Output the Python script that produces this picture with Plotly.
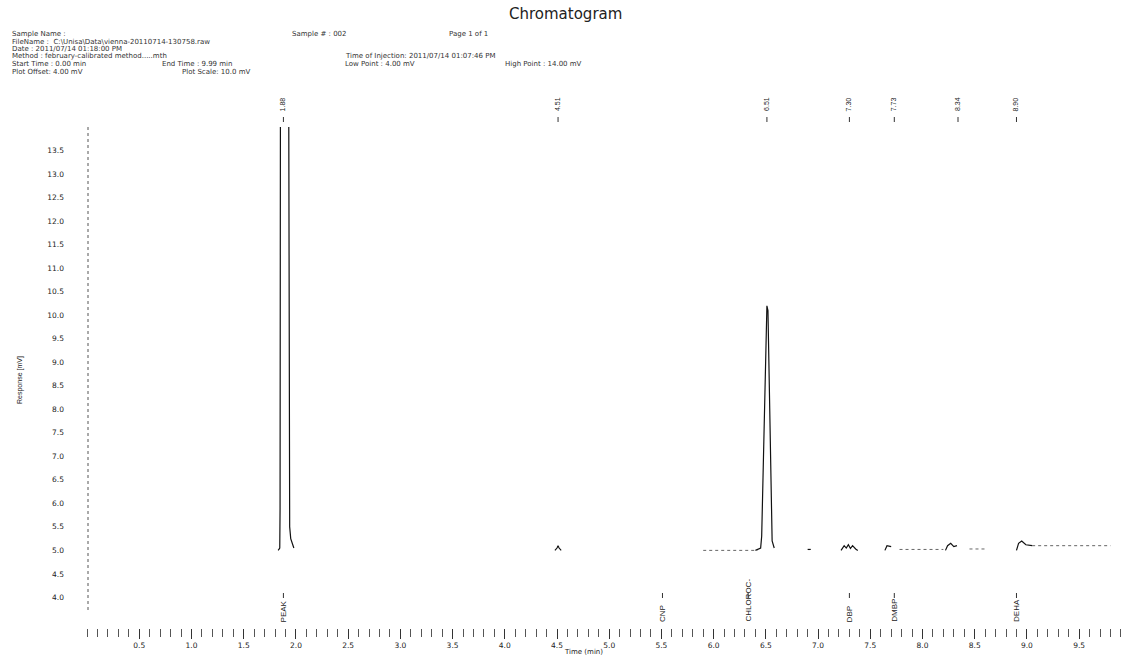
import plotly.graph_objects as go

# ---------------- data ----------------
# solid signal trace (None = gap where the trace is not visible)
signal_time = [1.83, 1.845, 1.848, 1.852, 1.885, 1.93, 1.935, 1.94, 1.95, 1.965, 1.98, None,
               4.48, 4.50, 4.51, 4.52, 4.54, None,
               6.40, 6.45, 6.46, 6.47, 6.49, 6.51, 6.52, 6.535, 6.55, 6.56, 6.58, None,
               6.90, 6.93, None,
               7.22, 7.25, 7.27, 7.29, 7.31, 7.33, 7.36, 7.38, None,
               7.64, 7.66, 7.70, None,
               8.22, 8.24, 8.27, 8.30, 8.33, None,
               8.90, 8.92, 8.95, 8.99, 9.05]
signal_mv = [5.0, 5.05, 5.9, 16.0, 60.0, 16.0, 6.6, 5.5, 5.25, 5.15, 5.05, None,
             5.0, 5.05, 5.1, 5.05, 5.0, None,
             5.0, 5.05, 5.3, 6.2, 8.5, 10.2, 10.1, 8.0, 5.8, 5.2, 5.05, None,
             5.02, 5.02, None,
             5.0, 5.1, 5.05, 5.12, 5.04, 5.1, 5.03, 5.0, None,
             5.0, 5.1, 5.08, None,
             5.0, 5.1, 5.15, 5.08, 5.1, None,
             5.0, 5.15, 5.2, 5.12, 5.1]

# faint (dotted) baseline pieces
baseline_time = [5.90, 6.42, None, 7.78, 8.20, None, 8.45, 8.62, None, 9.05, 9.80]
baseline_mv = [5.0, 5.0, None, 5.02, 5.02, None, 5.03, 5.03, None, 5.1, 5.1]

# peak retention-time labels (top)
peak_times = [1.88, 4.51, 6.51, 7.30, 7.73, 8.34, 8.90]
peak_labels = ["1.88", "4.51", "6.51", "7.30", "7.73", "8.34", "8.90"]

# compound name labels (bottom)
compound_times = [1.88, 5.51, 6.33, 7.30, 7.73, 8.90]
compound_names = ["PEAK", "CNP", "CHLOROC-", "DBP", "DMBP", "DEHA"]

# axis ticks
y_tick_vals = [4.0, 4.5, 5.0, 5.5, 6.0, 6.5, 7.0, 7.5, 8.0, 8.5, 9.0, 9.5,
               10.0, 10.5, 11.0, 11.5, 12.0, 12.5, 13.0, 13.5]
x_tick_vals = [0.5, 1.0, 1.5, 2.0, 2.5, 3.0, 3.5, 4.0, 4.5, 5.0, 5.5, 6.0,
               6.5, 7.0, 7.5, 8.0, 8.5, 9.0, 9.5]

# header information
header_rows = [
    [(10, "Sample Name :"), (290, "Sample # : 002"), (447, "Page 1 of 1")],
    [(10, r"FileName :  C:\Unisa\Data\vienna-20110714-130758.raw")],
    [(10, "Date : 2011/07/14 01:18:00 PM")],
    [(10, "Method : february-calibrated method.....mth"),
     (343, "Time of Injection: 2011/07/14 01:07:46 PM")],
    [(10, "Start Time : 0.00 min"), (160, "End Time : 9.99 min"),
     (343, "Low Point : 4.00 mV"), (503, "High Point : 14.00 mV")],
    [(10, "Plot Offset: 4.00 mV"), (180, "Plot Scale: 10.0 mV")],
]
header_y = [34, 41.5, 49, 56.5, 64, 71.5]

# ---------------- layout geometry ----------------
W, H = 1124, 659
ML, MR, MT, MB = 85, 1, 127, 31
PW, PH = W - ML - MR, H - MT - MB


def px(x):
    return (x - ML) / PW


def py(y):
    return 1 - (y - MT) / PH


FONT = "DejaVu Sans, Liberation Sans, Arial, sans-serif"
NARROW = "Liberation Sans Narrow, Arial Narrow, Liberation Sans, Arial, sans-serif"
TXT = "#222222"

fig = go.Figure()
fig.add_trace(go.Scatter(x=baseline_time, y=baseline_mv, mode="lines",
                         line=dict(color="#666666", width=1, dash="dot"),
                         connectgaps=False, showlegend=False, hoverinfo="skip"))
fig.add_trace(go.Scatter(x=signal_time, y=signal_mv, mode="lines",
                         line=dict(color="#111111", width=1.2),
                         connectgaps=False, showlegend=False))

annotations = []
# title
annotations.append(dict(text="Chromatogram", xref="paper", yref="paper",
                        x=px(565), y=py(14), showarrow=False,
                        font=dict(family=FONT, size=15, color=TXT),
                        xanchor="center", yanchor="middle"))
# header
for row, yy in zip(header_rows, header_y):
    for xx, t in row:
        annotations.append(dict(text=t, xref="paper", yref="paper",
                                x=px(xx), y=py(yy), showarrow=False,
                                font=dict(family=FONT, size=7, color="#333333"),
                                xanchor="left", yanchor="middle"))
# top peak labels
for t, lab in zip(peak_times, peak_labels):
    annotations.append(dict(text=lab, xref="x", yref="paper", x=t, y=py(113),
                            showarrow=False, textangle=-90,
                            font=dict(family=NARROW, size=7, color=TXT),
                            xanchor="center", yanchor="bottom"))
# bottom compound labels
for t, lab in zip(compound_times, compound_names):
    annotations.append(dict(text=lab, xref="x", yref="paper", x=t, y=py(624),
                            showarrow=False, textangle=-90,
                            font=dict(family=NARROW, size=8, color=TXT),
                            xanchor="center", yanchor="bottom"))
# axis titles
annotations.append(dict(text="Response [mV]", xref="paper", yref="paper",
                        x=px(20), y=py(380), showarrow=False, textangle=-90,
                        font=dict(family=NARROW, size=7, color=TXT),
                        xanchor="center", yanchor="middle"))
annotations.append(dict(text="Time (min)", xref="paper", yref="paper",
                        x=px(583), y=py(652), showarrow=False,
                        font=dict(family=FONT, size=7, color=TXT),
                        xanchor="center", yanchor="middle"))

shapes = []
# dotted y axis line
shapes.append(dict(type="line", xref="paper", yref="paper", x0=px(88), x1=px(88),
                   y0=py(127), y1=py(610),
                   line=dict(color="#555555", width=1, dash="dot")))
# small ticks under top labels
for t in peak_times:
    shapes.append(dict(type="line", xref="x", yref="paper", x0=t, x1=t,
                       y0=py(117), y1=py(122), line=dict(color="#333333", width=1)))
# small ticks above bottom labels
for t in compound_times:
    shapes.append(dict(type="line", xref="x", yref="paper", x0=t, x1=t,
                       y0=py(593), y1=py(598), line=dict(color="#333333", width=1)))

fig.update_layout(
    width=W, height=H,
    margin=dict(l=ML, r=MR, t=MT, b=MB),
    paper_bgcolor="white", plot_bgcolor="white",
    annotations=annotations, shapes=shapes,
    showlegend=False,
    xaxis=dict(range=[-0.02, 9.92], showgrid=False, zeroline=False, showline=False,
               tickmode="array", tickvals=x_tick_vals, tickformat=".1f",
               ticks="outside", ticklen=10, tickwidth=1, tickcolor="#333333",
               minor=dict(dtick=0.1, tick0=0, ticks="outside", ticklen=8,
                          tickwidth=1, tickcolor="#555555", showgrid=False),
               tickfont=dict(family=FONT, size=7.5, color=TXT)),
    yaxis=dict(range=[3.35, 14.0], showgrid=False, zeroline=False, showline=False,
               tickmode="array", tickvals=y_tick_vals, tickformat=".1f",
               ticks="", ticklabelstandoff=20,
               tickfont=dict(family=FONT, size=7.5, color=TXT)),
)

fig.write_html("out.html")
